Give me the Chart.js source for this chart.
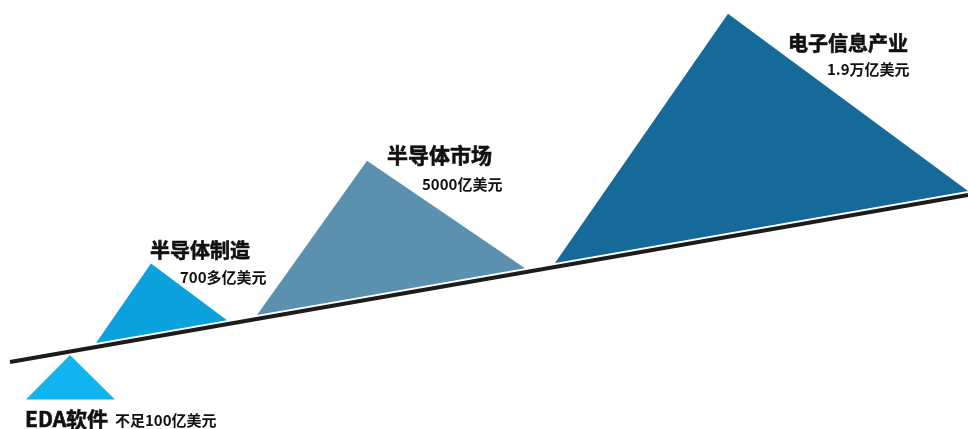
<!DOCTYPE html>
<html>
<head>
<meta charset="utf-8">
<script src="https://cdn.jsdelivr.net/npm/chart.js@4.4.1/dist/chart.umd.min.js"></script>
<style>
  html, body { margin: 0; padding: 0; background: #fff; }
  #wrap { width: 968px; height: 429px; position: relative; }
</style>
</head>
<body>
<div id="wrap"><canvas id="pyramidChart"></canvas></div>
<script>
// industry levels and their market size labels
const categories = ['EDA软件', '半导体制造', '半导体市场', '电子信息产业'];
const valueLabels = ['不足100亿美元', '700多亿美元', '5000亿美元', '1.9万亿美元'];

// rising trend line (axis units)
const trendX = [10, 968];
const trendY = [67, 234];

// triangles: base span along the trend, peak position and height over the trend
const baseFrom = [26, 96, 257, 555];
const baseTo = [115, 227, 525, 968];
const peakAt = [70, 151, 367, 728];
const peakHeight = [-48, 74, 139, 223];

const colors = ['#11b4ef', '#0ba1dc', '#5b90af', '#166a9a'];
const gap = 4;

// label placement: [title x, title y, value x, value y] in axis units
const labelPos = [
    [25, 10, 115, 9],
    [150, 179, 180, 152],
    [387, 274, 422, 245],
    [788, 386, 827, 360]
];
const titleSize = [21, 20, 21, 20];

function trendAt(x) {
    return trendY[0] + (x - trendX[0]) * (trendY[1] - trendY[0]) / (trendX[1] - trendX[0]);
}

function triangle(i) {
    const h = peakHeight[i];
    if (h < 0) {
        // hanging below the line, flat base
        const top = trendAt(peakAt[i]) - 3.5;
        const base = trendAt(peakAt[i]) + h;
        return [{x: baseFrom[i], y: base}, {x: peakAt[i], y: top}, {x: baseTo[i], y: base}];
    }
    return [
        {x: baseFrom[i], y: trendAt(baseFrom[i]) + gap},
        {x: peakAt[i], y: trendAt(peakAt[i]) + h},
        {x: baseTo[i], y: trendAt(baseTo[i]) + gap}
    ];
}

const datasets = [{
    label: 'trend',
    data: trendX.map((x, i) => ({x: x, y: trendY[i]})),
    showLine: true,
    borderColor: '#1c1c1c',
    borderWidth: 4,
    pointRadius: 0,
    fill: false
}];
categories.forEach((c, i) => {
    datasets.push({
        label: c,
        data: triangle(i),
        showLine: true,
        borderWidth: 0,
        borderColor: colors[i],
        backgroundColor: colors[i],
        pointRadius: 0,
        tension: 0,
        fill: 'shape'
    });
});

const labelPlugin = {
    id: 'triLabels',
    afterDatasetsDraw(chart) {
        const ctx = chart.ctx;
        const xs = chart.scales.x, ys = chart.scales.y;
        ctx.save();
        ctx.fillStyle = '#111';
        ctx.strokeStyle = '#111';
        ctx.textBaseline = 'middle';
        ctx.textAlign = 'left';
        categories.forEach((c, i) => {
            const p = labelPos[i];
            const tx = xs.getPixelForValue(p[0]), ty = ys.getPixelForValue(p[1]);
            ctx.font = 'bold ' + titleSize[i] + 'px "Noto Sans CJK SC", sans-serif';
            ctx.lineWidth = 0.6;
            ctx.fillText(c, tx, ty);
            ctx.strokeText(c, tx, ty);
            ctx.font = 'bold 15px "Noto Sans CJK SC", sans-serif';
            ctx.fillText(valueLabels[i], xs.getPixelForValue(p[2]), ys.getPixelForValue(p[3]));
        });
        ctx.restore();
    }
};

const ctx = document.getElementById('pyramidChart').getContext('2d');
const pyramidChart = new Chart(ctx, {
    type: 'scatter',
    data: { datasets: datasets },
    options: {
        responsive: true,
        maintainAspectRatio: false,
        animation: false,
        layout: { padding: 0 },
        scales: {
            x: { type: 'linear', min: 0, max: 968, display: false },
            y: { type: 'linear', min: 0, max: 429, display: false }
        },
        plugins: {
            legend: { display: false },
            tooltip: { enabled: false }
        }
    },
    plugins: [labelPlugin]
});
</script>
</body>
</html>
